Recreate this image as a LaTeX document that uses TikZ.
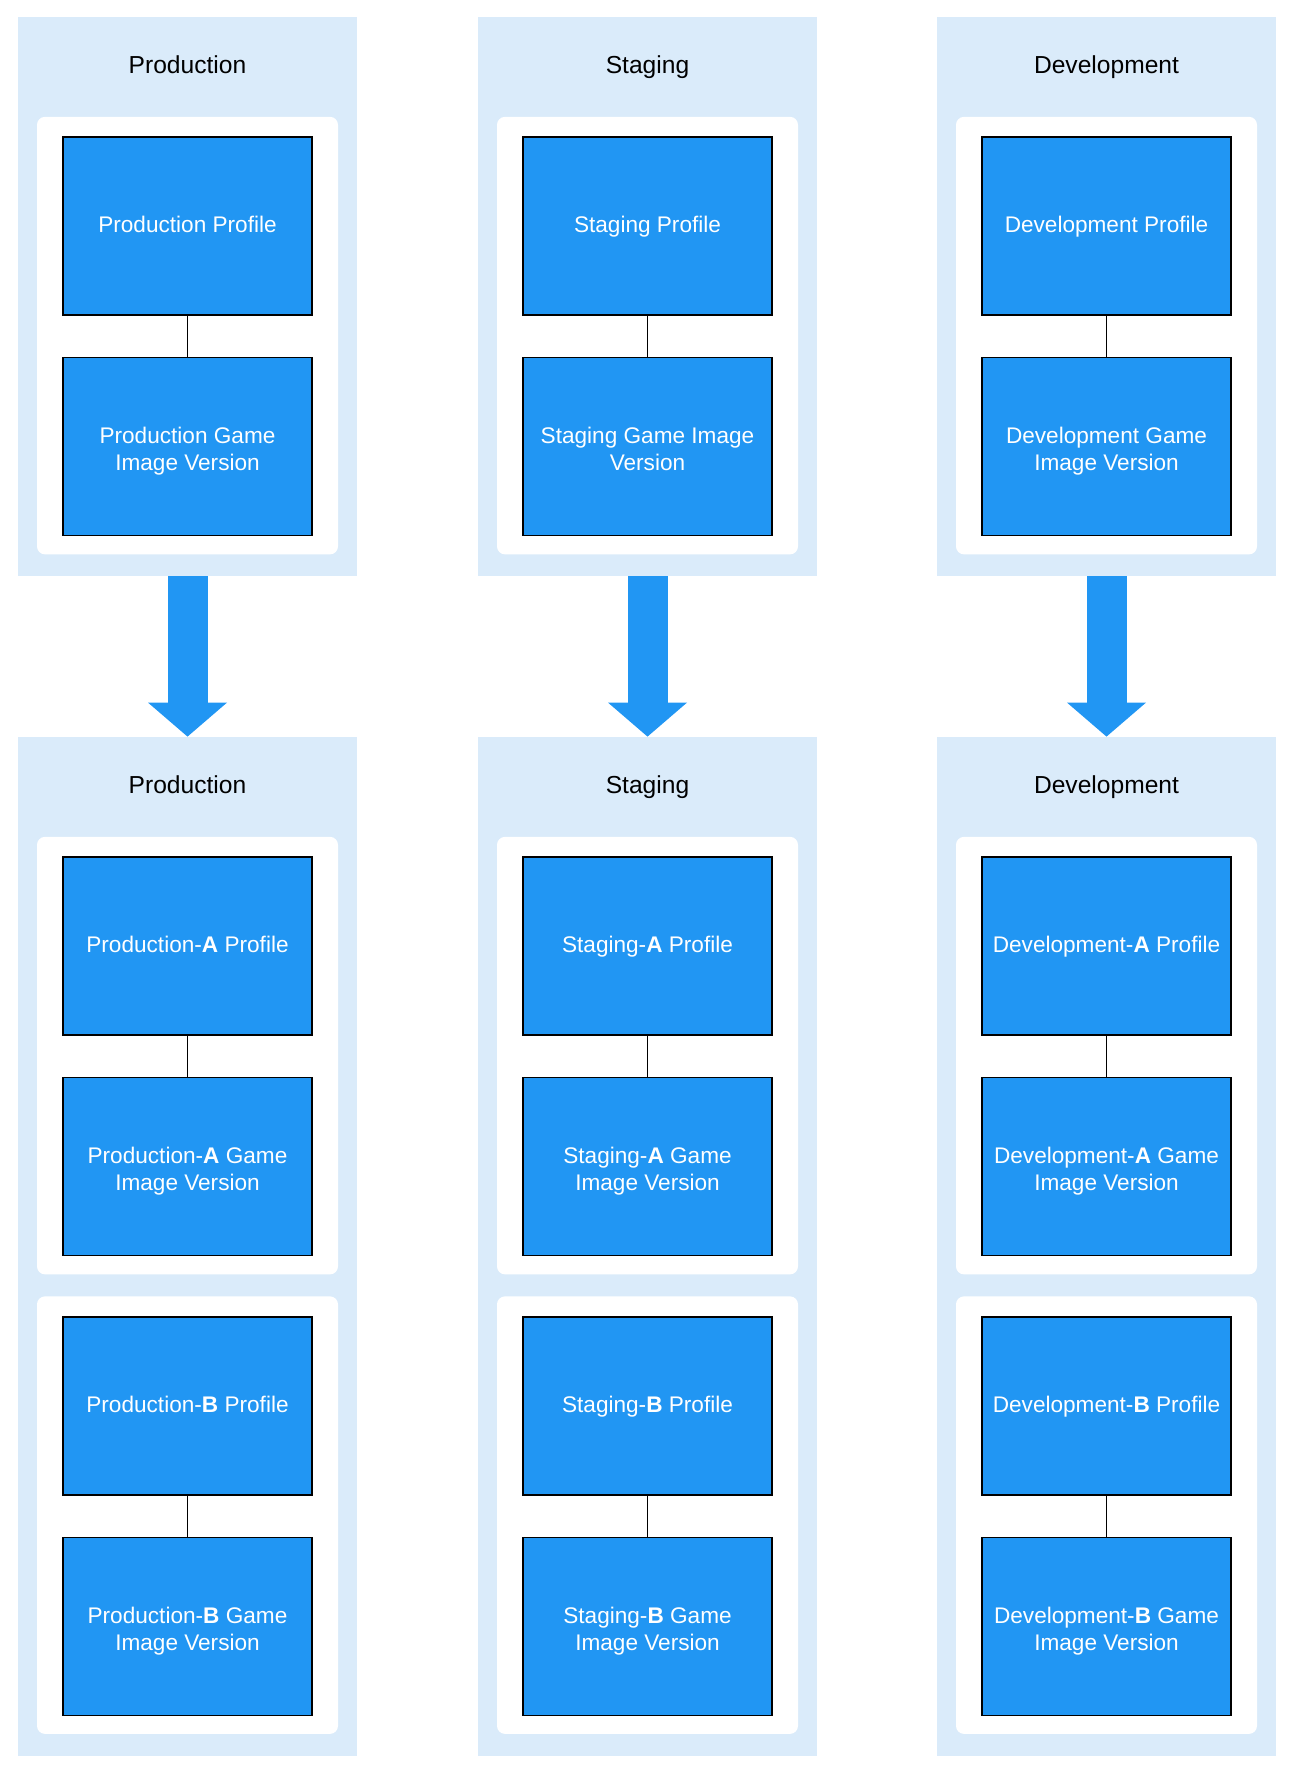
\documentclass[tikz,border=0pt]{standalone}
\usepackage{fontspec}
\setmainfont{Liberation Sans}
\usetikzlibrary{calc,arrows.meta}
\definecolor{bgblue}{HTML}{DAEBFA}
\definecolor{boxblue}{HTML}{2196F3}

\begin{document}
\begin{tikzpicture}[x=1pt,y=-1pt]
    \tikzstyle{envarea}=[fill=bgblue, inner sep=0, minimum width=169.5pt]
    \tikzstyle{envtitle}=[anchor=base, font=\fontsize{12.3}{14}\selectfont]
    \tikzstyle{panel}=[fill=white, rounded corners=4pt, inner sep=0, minimum width=150.5pt, minimum height=218.75pt]
    \tikzstyle{profbox}=[draw=black, line width=.8pt, fill=boxblue, text=white, align=center, inner sep=0,
        minimum width=124.5pt, minimum height=89pt, font=\fontsize{11.3}{13.3}\selectfont,
        text height=8pt, text depth=1.4pt]
    \tikzstyle{pairbox}=[profbox, text height=25pt]
    \tikzstyle{link}=[line width=.75pt]
    \tikzstyle{promote}=[line width=20pt, draw=boxblue, -{Triangle[length=17pt, width=39.5pt, line width=0pt]}]
    \useasboundingbox (0,0) rectangle (647,886);
    % Production
    \node[envarea, minimum height=279.5pt] (PRODTOP) at (93.75,148.25) {};
    \node[envtitle] (PRODTTL) at ($(PRODTOP.north)+(0,28.3)$) {Production};
    \node[panel] (PRODPNL) at ($(PRODTOP.north)+(0,159.5)$) {};
    \node[profbox] (PRODPF) at ($(PRODTOP.north)+(0,104.75)$) {Production Profile};
    \node[pairbox] (PRODGIV) at ($(PRODPF)+(0,110.25)$) {Production Game\\Image Version};
    \draw[link] (PRODPF) -- (PRODGIV);
    \node[envarea, minimum height=509.5pt] (PRODBOT) at (93.75,623.25) {};
    \node[envtitle] (PRODTTL2) at ($(PRODBOT.north)+(0,28.3)$) {Production};
    \node[panel] (PRODPNLA) at ($(PRODBOT.north)+(0,159.5)$) {};
    \node[panel] (PRODPNLB) at ($(PRODPNLA)+(0,229.75)$) {};
    \node[profbox] (PRODAPF) at ($(PRODBOT.north)+(0,104.75)$) {Production-\textbf{A} Profile};
    \node[pairbox] (PRODAGIV) at ($(PRODAPF)+(0,110.25)$) {Production-\textbf{A} Game\\Image Version};
    \node[profbox] (PRODBPF) at ($(PRODAPF)+(0,230)$) {Production-\textbf{B} Profile};
    \node[pairbox] (PRODBGIV) at ($(PRODBPF)+(0,110.25)$) {Production-\textbf{B} Game\\Image Version};
    \draw[link] (PRODAPF) -- (PRODAGIV);
    \draw[link] (PRODBPF) -- (PRODBGIV);
    \draw[promote] (PRODTOP.south) -- (PRODBOT.north);
    % Staging
    \node[envarea, minimum height=279.5pt] (STAGTOP) at (323.75,148.25) {};
    \node[envtitle] (STAGTTL) at ($(STAGTOP.north)+(0,28.3)$) {Staging};
    \node[panel] (STAGPNL) at ($(STAGTOP.north)+(0,159.5)$) {};
    \node[profbox] (STAGPF) at ($(STAGTOP.north)+(0,104.75)$) {Staging Profile};
    \node[pairbox] (STAGGIV) at ($(STAGPF)+(0,110.25)$) {Staging Game Image\\Version};
    \draw[link] (STAGPF) -- (STAGGIV);
    \node[envarea, minimum height=509.5pt] (STAGBOT) at (323.75,623.25) {};
    \node[envtitle] (STAGTTL2) at ($(STAGBOT.north)+(0,28.3)$) {Staging};
    \node[panel] (STAGPNLA) at ($(STAGBOT.north)+(0,159.5)$) {};
    \node[panel] (STAGPNLB) at ($(STAGPNLA)+(0,229.75)$) {};
    \node[profbox] (STAGAPF) at ($(STAGBOT.north)+(0,104.75)$) {Staging-\textbf{A} Profile};
    \node[pairbox] (STAGAGIV) at ($(STAGAPF)+(0,110.25)$) {Staging-\textbf{A} Game\\Image Version};
    \node[profbox] (STAGBPF) at ($(STAGAPF)+(0,230)$) {Staging-\textbf{B} Profile};
    \node[pairbox] (STAGBGIV) at ($(STAGBPF)+(0,110.25)$) {Staging-\textbf{B} Game\\Image Version};
    \draw[link] (STAGAPF) -- (STAGAGIV);
    \draw[link] (STAGBPF) -- (STAGBGIV);
    \draw[promote] (STAGTOP.south) -- (STAGBOT.north);
    % Development
    \node[envarea, minimum height=279.5pt] (DEVTOP) at (553.25,148.25) {};
    \node[envtitle] (DEVTTL) at ($(DEVTOP.north)+(0,28.3)$) {Development};
    \node[panel] (DEVPNL) at ($(DEVTOP.north)+(0,159.5)$) {};
    \node[profbox] (DEVPF) at ($(DEVTOP.north)+(0,104.75)$) {Development Profile};
    \node[pairbox] (DEVGIV) at ($(DEVPF)+(0,110.25)$) {Development Game\\Image Version};
    \draw[link] (DEVPF) -- (DEVGIV);
    \node[envarea, minimum height=509.5pt] (DEVBOT) at (553.25,623.25) {};
    \node[envtitle] (DEVTTL2) at ($(DEVBOT.north)+(0,28.3)$) {Development};
    \node[panel] (DEVPNLA) at ($(DEVBOT.north)+(0,159.5)$) {};
    \node[panel] (DEVPNLB) at ($(DEVPNLA)+(0,229.75)$) {};
    \node[profbox] (DEVAPF) at ($(DEVBOT.north)+(0,104.75)$) {Development-\textbf{A} Profile};
    \node[pairbox] (DEVAGIV) at ($(DEVAPF)+(0,110.25)$) {Development-\textbf{A} Game\\Image Version};
    \node[profbox] (DEVBPF) at ($(DEVAPF)+(0,230)$) {Development-\textbf{B} Profile};
    \node[pairbox] (DEVBGIV) at ($(DEVBPF)+(0,110.25)$) {Development-\textbf{B} Game\\Image Version};
    \draw[link] (DEVAPF) -- (DEVAGIV);
    \draw[link] (DEVBPF) -- (DEVBGIV);
    \draw[promote] (DEVTOP.south) -- (DEVBOT.north);
\end{tikzpicture}
\end{document}
